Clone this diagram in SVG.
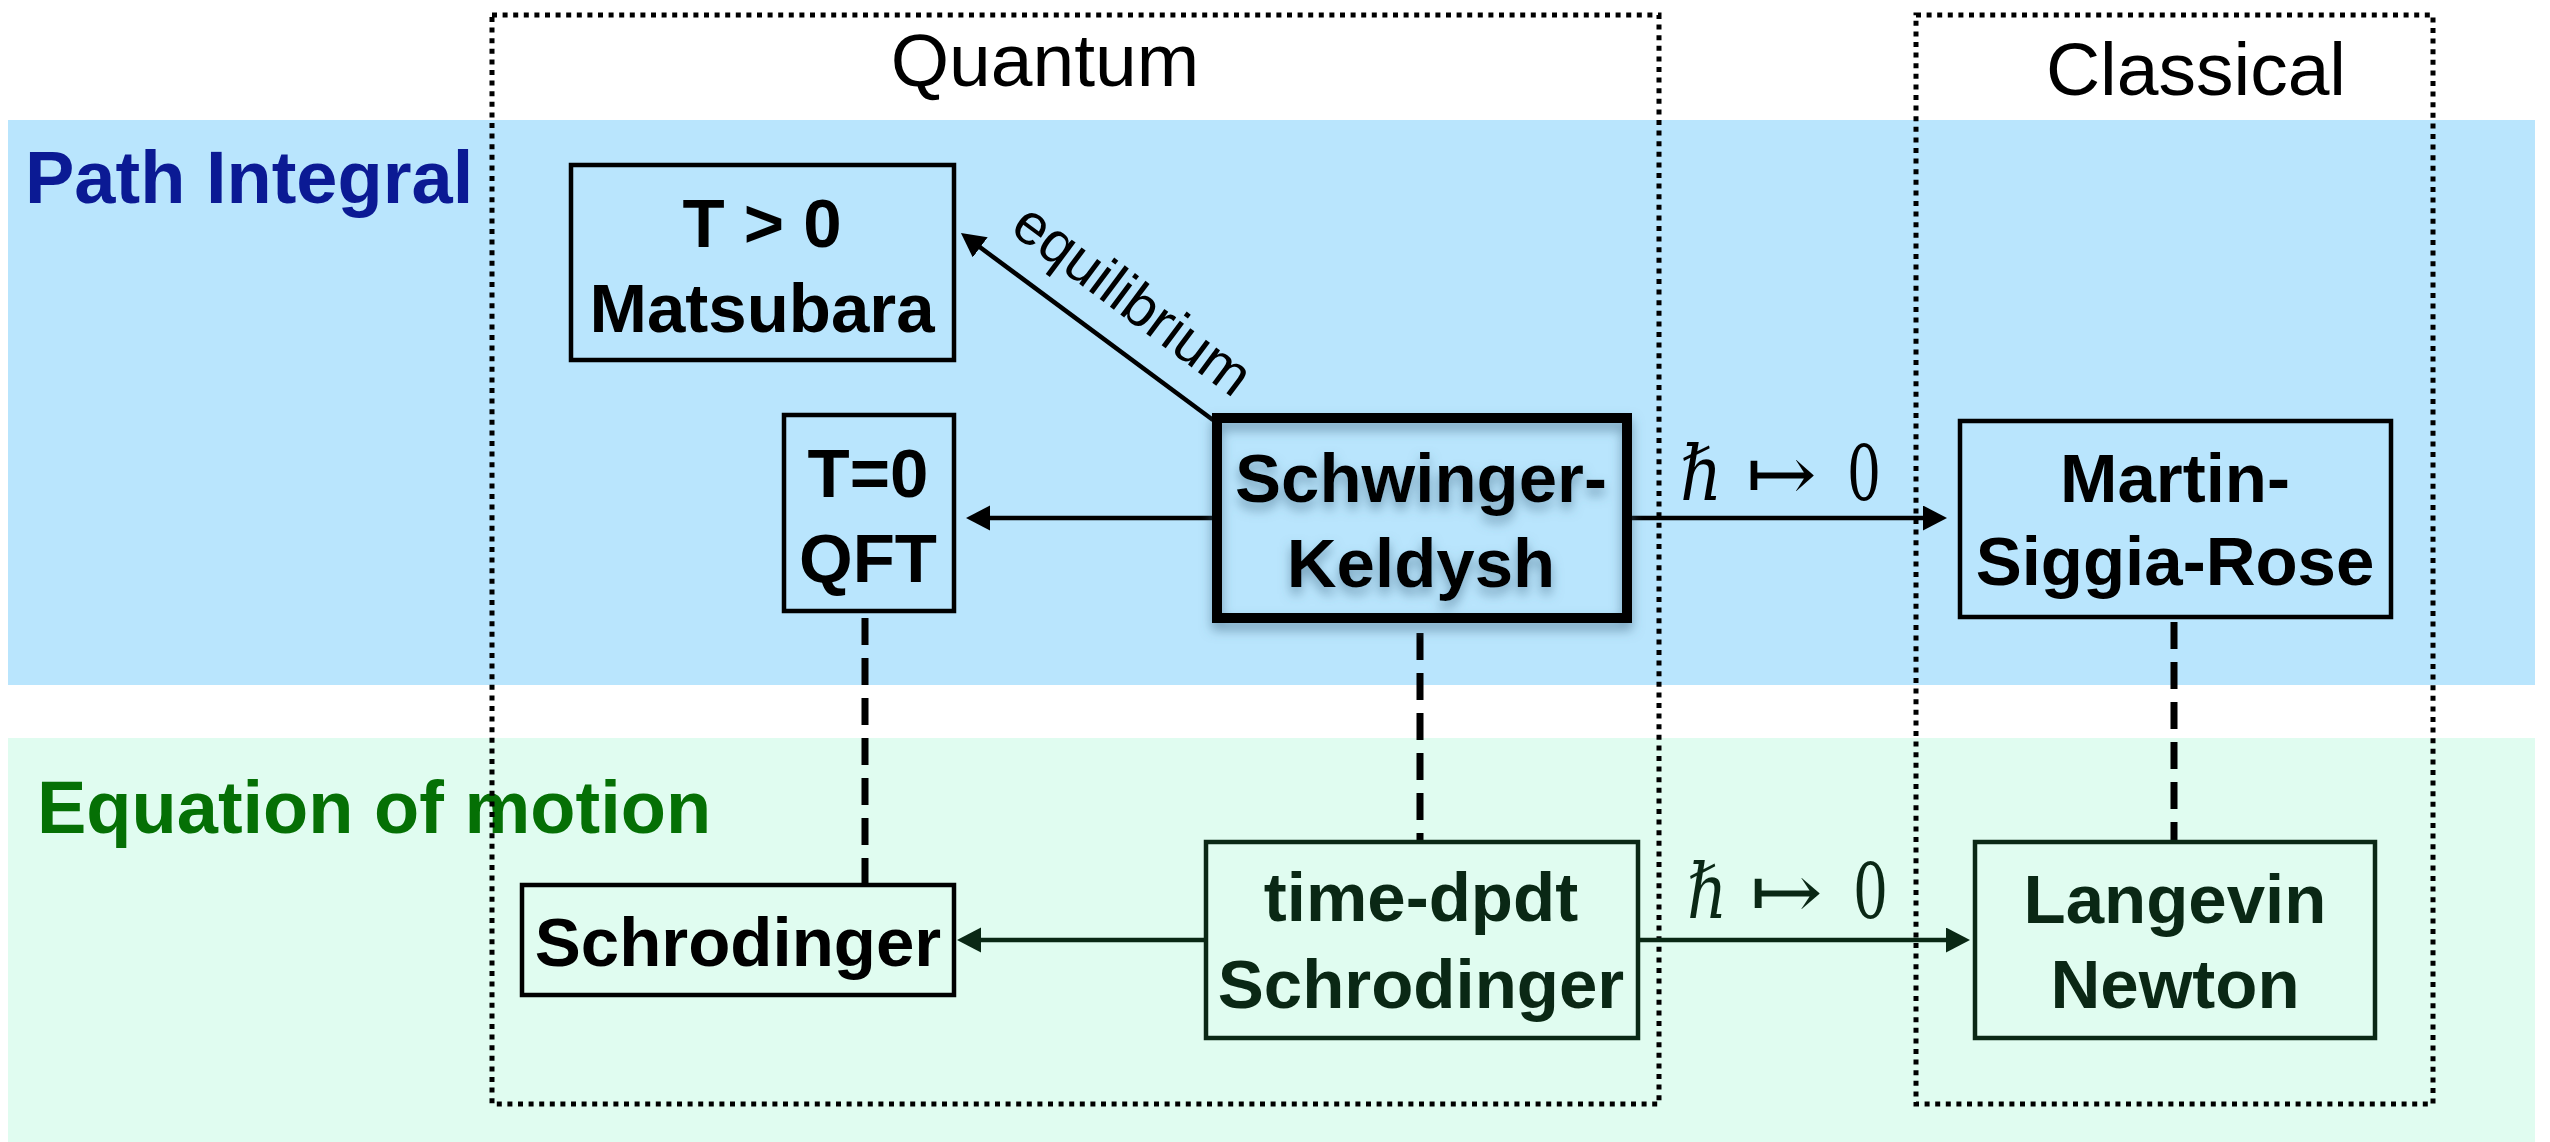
<svg xmlns="http://www.w3.org/2000/svg" width="2550" height="1142" viewBox="0 0 2550 1142">
<style>
.band-pi{fill:#b9e5fd}
.band-eom{fill:#e0fcf0}
.sec{font-family:"Liberation Sans",Arial,sans-serif;font-size:74px;font-weight:bold}
.col{font-family:"Liberation Sans",Arial,sans-serif;font-size:75px;fill:#000}
.dotbox{fill:none;stroke:#000;stroke-width:5;stroke-dasharray:5 5.6}
.box{fill:none;stroke:#000;stroke-width:4.5}
.boxg{fill:none;stroke:#0a2815;stroke-width:4.5}
.nt{font-family:"Liberation Sans",Arial,sans-serif;font-size:69px;font-weight:bold;text-anchor:middle;fill:#000}
.ntg{fill:#0a2815}
.arr{stroke:#000;stroke-width:4.5;fill:none}
.arrg{stroke:#0a2815;stroke-width:4.5;fill:none}
.dash{stroke:#000;stroke-width:7;stroke-dasharray:27 13;fill:none}
.lbl{font-family:"Liberation Sans",Arial,sans-serif;font-size:58px;fill:#000;text-anchor:middle}
.math{font-family:"DejaVu Serif","Liberation Serif",serif;font-size:76px}
</style>
<defs>
<marker id="ah" markerUnits="userSpaceOnUse" markerWidth="26" markerHeight="28" refX="4" refY="12.5" orient="auto">
<path d="M0,0 L24,12.5 L0,25 z" fill="#000"/>
</marker>
<marker id="ahg" markerUnits="userSpaceOnUse" markerWidth="26" markerHeight="28" refX="4" refY="12.5" orient="auto">
<path d="M0,0 L24,12.5 L0,25 z" fill="#0a2815"/>
</marker>
<filter id="shadow" x="-20%" y="-20%" width="140%" height="150%">
<feDropShadow dx="0" dy="7" stdDeviation="6" flood-color="#4a6f8a" flood-opacity="0.6"/>
</filter>
</defs>

<!-- background bands -->
<rect class="band-pi" x="8" y="120" width="2527" height="565"/>
<rect class="band-eom" x="8" y="738" width="2527" height="404"/>

<!-- section labels -->
<text class="sec" x="25" y="203" fill="#0b1a94">Path Integral</text>
<text class="sec" x="37" y="833" fill="#057005">Equation of motion</text>

<!-- column frames -->
<g id="quantum-frame">
<rect class="dotbox" x="492" y="15" width="1167" height="1089"/>
<text class="col" x="1045" y="86" text-anchor="middle">Quantum</text>
</g>
<g id="classical-frame">
<rect class="dotbox" x="1916" y="15" width="517" height="1089"/>
<text class="col" x="2196" y="95" text-anchor="middle">Classical</text>
</g>

<!-- connectors -->
<g id="connectors">
<line class="arr" x1="1213" y1="420" x2="977" y2="245" marker-end="url(#ah)"/>
<text class="lbl" transform="translate(1121,315) rotate(36.6)">equilibrium</text>
<line class="arr" x1="1212" y1="518" x2="986" y2="518" marker-end="url(#ah)"/>
<line class="arr" x1="1631" y1="518" x2="1927" y2="518" marker-end="url(#ah)"/>
<line class="arrg" x1="1204" y1="940" x2="977" y2="940" marker-end="url(#ahg)"/>
<line class="arrg" x1="1639" y1="940" x2="1950" y2="940" marker-end="url(#ahg)"/>
<line class="dash" x1="865" y1="618" x2="865" y2="884"/>
<line class="dash" x1="1420" y1="633" x2="1420" y2="841"/>
<line class="dash" x1="2174" y1="622" x2="2174" y2="841"/>
<g class="math" fill="#000">
<text x="1680" y="500" font-style="italic" textLength="42" lengthAdjust="spacingAndGlyphs">ℏ</text>
<text x="1746" y="500" textLength="71" lengthAdjust="spacingAndGlyphs">↦</text>
<text x="1847" y="500" textLength="34" lengthAdjust="spacingAndGlyphs">0</text>
</g>
<g class="math" fill="#0a2815">
<text x="1687" y="918" font-style="italic" textLength="40" lengthAdjust="spacingAndGlyphs">ℏ</text>
<text x="1750" y="918" textLength="73" lengthAdjust="spacingAndGlyphs">↦</text>
<text x="1853" y="918" textLength="35" lengthAdjust="spacingAndGlyphs">0</text>
</g>
</g>

<!-- nodes -->
<g id="matsubara">
<rect class="box" x="571" y="165" width="383" height="195"/>
<text class="nt" x="762" y="247">T &gt; 0</text>
<text class="nt" x="762" y="332">Matsubara</text>
</g>
<g id="qft">
<rect class="box" x="784" y="415" width="170" height="196"/>
<text class="nt" x="868" y="497">T=0</text>
<text class="nt" x="868" y="582">QFT</text>
</g>
<g id="schwinger-keldysh" filter="url(#shadow)">
<rect x="1217" y="418" width="410" height="200" fill="none" stroke="#000" stroke-width="10"/>
<text class="nt" x="1421" y="502">Schwinger-</text>
<text class="nt" x="1421" y="587">Keldysh</text>
</g>
<g id="msr">
<rect class="box" x="1960" y="421" width="431" height="196"/>
<text class="nt" x="2175" y="502">Martin-</text>
<text class="nt" x="2175" y="585">Siggia-Rose</text>
</g>
<g id="schrodinger">
<rect class="box" x="522" y="885" width="432" height="110"/>
<text class="nt" x="738" y="966">Schrodinger</text>
</g>
<g id="time-dpdt">
<rect class="boxg" x="1206" y="842" width="432" height="196"/>
<text class="nt ntg" x="1421" y="921">time-dpdt</text>
<text class="nt ntg" x="1421" y="1008">Schrodinger</text>
</g>
<g id="langevin">
<rect class="boxg" x="1975" y="842" width="400" height="196"/>
<text class="nt ntg" x="2175" y="923">Langevin</text>
<text class="nt ntg" x="2175" y="1008">Newton</text>
</g>
</svg>
